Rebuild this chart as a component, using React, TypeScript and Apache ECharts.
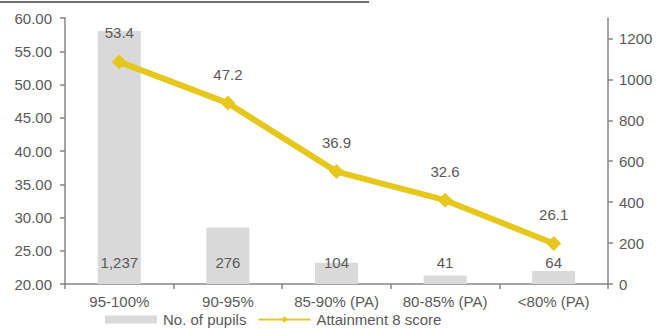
import React, { useEffect, useRef } from "react";
import * as echarts from "echarts";

const categories = ["95-100%", "90-95%", "85-90% (PA)", "80-85% (PA)", "<80% (PA)"];
const pupils = [1237, 276, 104, 41, 64];
const attainment = [53.4, 47.2, 36.9, 32.6, 26.1];

const FONT = "Liberation Sans, Arial, sans-serif";
const TEXT = "#595959";
const AXIS = "#868686";
const FS = 15;

export default function App() {
  const ref = useRef<HTMLDivElement>(null);
  useEffect(() => {
    if (!ref.current) return;
    const chart = echarts.init(ref.current, null, { renderer: "svg" });
    chart.setOption({
      animation: false,
      textStyle: { fontFamily: FONT },
      graphic: [
        {
          type: "line",
          shape: { x1: 0, y1: 2, x2: 369, y2: 2 },
          style: { stroke: "#404040", lineWidth: 1.5 },
        },
      ],
      grid: { left: 65, right: 51, top: 18, bottom: 45 },
      legend: {
        left: 105,
        top: 312,
        padding: 0,
        itemWidth: 52,
        itemHeight: 8,
        itemGap: 11,
        textStyle: { color: TEXT, fontSize: FS, fontFamily: FONT, padding: [0, 0, 0, 1] },
        data: [
          { name: "No. of pupils", icon: "rect" },
          { name: "Attainment 8 score" },
        ],
      },
      xAxis: {
        type: "category",
        data: categories,
        axisLine: { lineStyle: { color: AXIS, width: 1.5 } },
        axisTick: { show: true, length: 5, lineStyle: { color: AXIS, width: 1.5 } },
        axisLabel: { color: TEXT, fontSize: FS, margin: 10, fontFamily: FONT, interval: 0, hideOverlap: false },
      },
      yAxis: [
        {
          type: "value",
          min: 20,
          max: 60,
          interval: 5,
          splitLine: { show: false },
          axisLine: { show: true, lineStyle: { color: AXIS, width: 1.5 } },
          axisTick: { show: true, length: 5, lineStyle: { color: AXIS, width: 1.5 } },
          axisLabel: {
            color: TEXT,
            fontSize: FS,
            margin: 13,
            fontFamily: FONT,
            formatter: (v: number) => v.toFixed(2),
          },
        },
        {
          type: "value",
          min: 0,
          max: 1300,
          interval: 200,
          position: "right",
          splitLine: { show: false },
          axisLine: { show: true, lineStyle: { color: AXIS, width: 1.5 } },
          axisTick: { show: true, length: 5, lineStyle: { color: AXIS, width: 1.5 } },
          axisLabel: {
            color: TEXT,
            fontSize: FS,
            margin: 11,
            fontFamily: FONT,
            showMaxLabel: false,
            formatter: (v: number) => String(v),
          },
        },
      ],
      series: [
        {
          name: "No. of pupils",
          type: "bar",
          yAxisIndex: 1,
          data: pupils,
          barWidth: 43,
          itemStyle: { color: "#D9D9D9" },
          label: {
            show: true,
            position: "insideBottom",
            distance: 14,
            color: TEXT,
            fontSize: FS,
            fontFamily: FONT,
            formatter: (p: any) => Number(p.value).toLocaleString("en-US"),
          },
          z: 1,
        },
        {
          name: "Attainment 8 score",
          type: "line",
          yAxisIndex: 0,
          data: attainment,
          symbol: "diamond",
          symbolSize: 15,
          lineStyle: { color: "#E6C71E", width: 6 },
          itemStyle: { color: "#E6C71E" },
          label: {
            show: true,
            position: "top",
            distance: 14,
            color: TEXT,
            fontSize: FS,
            fontFamily: FONT,
            formatter: (p: any) => Number(p.value).toFixed(1),
          },
          z: 3,
        },
      ],
    });
    return () => chart.dispose();
  }, []);
  return <div ref={ref} style={{ width: 659, height: 329, position: "absolute", left: 0, top: 0 }} />;
}
